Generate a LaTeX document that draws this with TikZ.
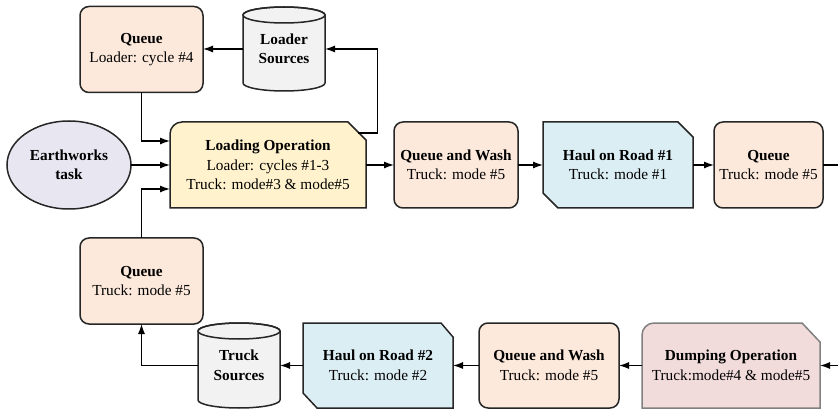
\documentclass[tikz,border=0pt]{standalone}
\usepackage{fontspec}
\setmainfont{Liberation Serif}
\usetikzlibrary{arrows.meta,backgrounds,calc,shapes.geometric}
\definecolor{qfill}{HTML}{FCE9DB}
\definecolor{lofill}{HTML}{FFF2CC}
\definecolor{hfill}{HTML}{DBEEF4}
\definecolor{dfill}{HTML}{F2DCDB}
\definecolor{cylfill}{HTML}{F2F2F2}
\definecolor{elfill}{HTML}{E8E6F0}
\definecolor{bord}{HTML}{262626}
\definecolor{dbord}{HTML}{808080}
\begin{document}
\begin{tikzpicture}[x=1pt,y=1pt,
  txt/.style={align=center,inner sep=0pt,outer sep=0pt,font=\fontsize{15.3}{19.5}\selectfont,text=black},
  qbox/.style={txt,draw=bord,line width=1.5pt,fill=qfill,rounded corners=9pt,minimum height=86pt},
  plain/.style={txt,minimum height=86pt},
  outl/.style={draw=bord,line width=1.5pt},
  arr/.style={draw=black,line width=1.3pt,-{Latex[length=10pt,width=7pt]}},
  ln/.style={draw=black,line width=1.3pt}
]
\useasboundingbox (0,0) rectangle (838,410);

% ---------- nodes ----------
\node[qbox,minimum width=123pt] (q1) at (141.5,360.5) {\textbf{Queue}\\Loader: cycle \#4};
\node[plain,minimum width=82pt,minimum height=84pt] (ls) at (284,361) {\textbf{Loader}\\\textbf{Sources}};
\node[plain,minimum width=196pt] (lo) at (268,245) {\textbf{Loading Operation}\\Loader: cycles \#1-3\\Truck: mode\#3 \& mode\#5};
\node[txt,ellipse,draw=bord,line width=1.5pt,fill=elfill,minimum width=124pt,minimum height=88pt] (et) at (69,245) {\textbf{Earthworks}\\\textbf{task}};
\node[qbox,minimum width=124pt] (qw1) at (456,245) {\textbf{Queue and Wash}\\Truck: mode \#5};
\node[plain,minimum width=150pt] (h1) at (618,245) {\textbf{Haul on Road \#1}\\Truck: mode \#1};
\node[qbox,minimum width=109pt] (q3) at (768.5,245) {\textbf{Queue}\\Truck: mode \#5};
\node[qbox,minimum width=123pt] (q2) at (141.5,129) {\textbf{Queue}\\Truck: mode \#5};
\node[plain,minimum width=82pt,minimum height=85pt] (ts) at (239,44.5) {\textbf{Truck}\\\textbf{Sources}};
\node[plain,minimum width=150pt,minimum height=85pt] (h2) at (378,44.5) {\textbf{Haul on Road \#2}\\Truck: mode \#2};
\node[qbox,minimum width=140pt,minimum height=85pt] (qw2) at (549,44.5) {\textbf{Queue and Wash}\\Truck: mode \#5};
\node[plain,minimum width=178pt,minimum height=85pt] (do) at (731,44.5) {\textbf{Dumping Operation}\\Truck:mode\#4 \& mode\#5};

% ---------- custom outlines ----------
\begin{scope}[on background layer]
  % Loader Sources cylinder
  \draw[outl,fill=cylfill] ($(ls.north west)+(0,-8)$) -- ($(ls.south west)+(0,8)$)
     arc[start angle=180,end angle=360,x radius=41,y radius=8]
     -- ($(ls.north east)+(0,-8)$)
     arc[start angle=0,end angle=180,x radius=41,y radius=8] -- cycle;
  \draw[outl] ($(ls.north)+(0,-8)$) ellipse[x radius=41,y radius=8];
  % Truck Sources cylinder
  \draw[outl,fill=cylfill] ($(ts.north west)+(0,-8)$) -- ($(ts.south west)+(0,8)$)
     arc[start angle=180,end angle=360,x radius=41,y radius=8]
     -- ($(ts.north east)+(0,-8)$)
     arc[start angle=0,end angle=180,x radius=41,y radius=8] -- cycle;
  \draw[outl] ($(ts.north)+(0,-8)$) ellipse[x radius=41,y radius=8];
  % Loading Operation
  \draw[outl,fill=lofill] (lo.south west) -- ($(lo.north west)+(0,-12)$)
     arc[start angle=180,end angle=90,radius=12]
     -- ($(lo.north east)+(-18,0)$) -- ($(lo.north east)+(0,-18)$)
     -- (lo.south east) -- cycle;
  % Haul on Road #1
  \draw[outl,fill=hfill] ($(h1.south west)+(0,15)$) -- (h1.north west)
     -- ($(h1.north east)+(-15,0)$) -- ($(h1.north east)+(0,-15)$)
     -- (h1.south east) -- ($(h1.south west)+(15,0)$) -- cycle;
  % Haul on Road #2
  \draw[outl,fill=hfill] ($(h2.south west)+(0,15)$) -- (h2.north west)
     -- ($(h2.north east)+(-12,0)$) -- ($(h2.north east)+(0,-14)$)
     -- (h2.south east) -- ($(h2.south west)+(14,0)$) -- cycle;
  % Dumping Operation
  \draw[draw=dbord,line width=1.5pt,fill=dfill] (do.south west) -- ($(do.north west)+(0,-12)$)
     arc[start angle=180,end angle=90,radius=12]
     -- ($(do.north east)+(-18,0)$) -- ($(do.north east)+(0,-19)$)
     -- (do.south east) -- cycle;
\end{scope}

% ---------- connectors ----------
\coordinate (loout) at (357.5,277);
\coordinate (rout) at (838,245);
\coordinate (rin) at (838,44.5);
\draw[arr] (ls.west) -- (ls.west -| q1.east);
\draw[arr] (loout) -- ++(20,0) |- (ls.east);
\draw[arr] (q1.south) |- ($(lo.west)+(0,24)$);
\draw[arr] (et.east) -- (lo.west);
\draw[arr] (q2.north) |- ($(lo.west)+(0,-24)$);
\draw[arr] (lo.east) -- (qw1.west);
\draw[arr] (qw1.east) -- (h1.west);
\draw[arr] (h1.east) -- (q3.west);
\draw[ln] (q3.east) -- (rout);
\draw[arr] (rin) -- (do.east);
\draw[arr] (do.west) -- (qw2.east);
\draw[arr] (qw2.west) -- (h2.east);
\draw[arr] (h2.west) -- (ts.east);
\draw[arr] (ts.west) -| (q2.south);
\end{tikzpicture}
\end{document}
